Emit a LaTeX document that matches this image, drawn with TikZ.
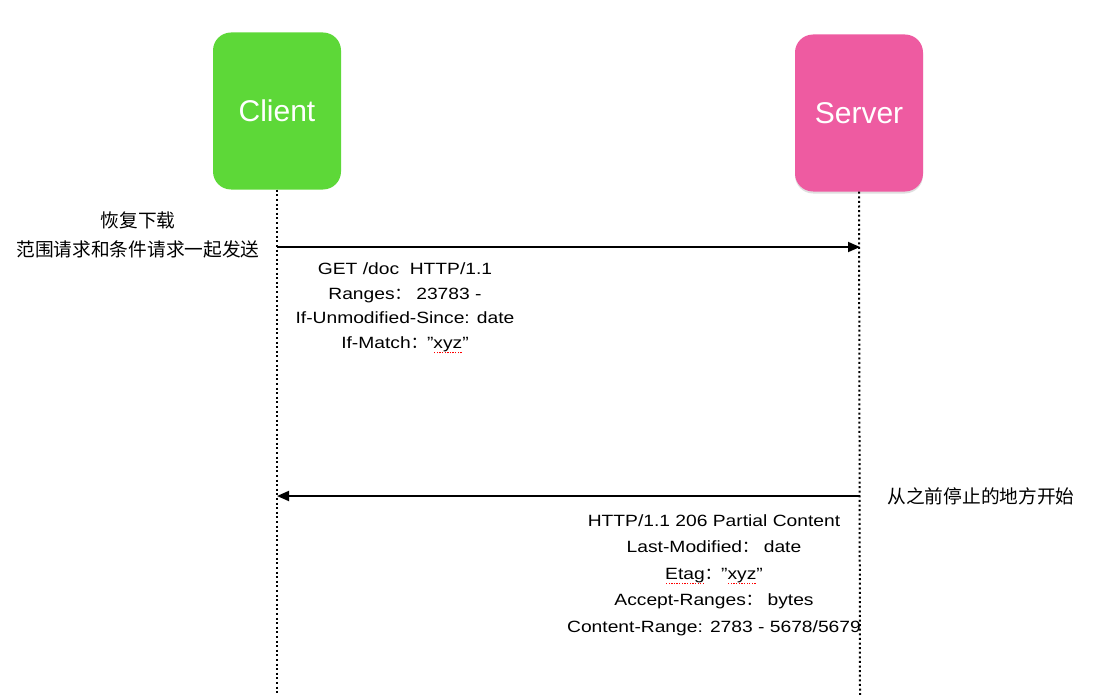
\documentclass[tikz,border=0pt]{standalone}
\usepackage{fontspec}
\setmainfont{Liberation Sans}
\newfontfamily\msgfont[FakeStretch=1.18]{Liberation Sans}
\newfontfamily\cjk{Noto Sans CJK SC}
\usetikzlibrary{arrows.meta, shadows}
\definecolor{clientgreen}{RGB}{93, 216, 56}
\definecolor{serverpink}{RGB}{238, 91, 161}
% full-width colon from the CJK font
\newcommand{\fc}{{\cjk ：}}
% red dotted spell-check mark under a word
\newcommand{\spellmark}[1]{\setbox0\hbox{#1}\rlap{\color{red}\raisebox{-5pt}{\hbox to \wd0{\xleaders\hbox to 2.6pt{\hss\rule{1.3pt}{1.3pt}\hss}\hfil}}}\box0}

\begin{document}
\begin{tikzpicture}[
  x=1pt, y=-1pt,
  party/.style={rounded corners=18pt, minimum width=128pt, minimum height=157pt,
                text=white, font=\fontsize{30}{36}\selectfont},
  life/.style={line width=2pt, dash pattern=on 2pt off 2.6pt},
  msg/.style={-{Triangle[length=12pt,width=10pt]}, line width=1.8pt},
  note/.style={align=center, font=\cjk\fontsize{18.7}{29}\selectfont},
  head/.style={align=center, font=\msgfont\fontsize{16.3}{24.7}\selectfont}
]
  \useasboundingbox (0,0) rectangle (1099,695);

  \node[party, fill=clientgreen] (client) at (277,111) {Client};
  \node[party, fill=serverpink,
        drop shadow={opacity=0.25, shadow xshift=0pt, shadow yshift=-2pt}] (server) at (859,113) {Server};

  % lifelines
  \coordinate (cend) at (277,695);
  \coordinate (send) at (860,695);
  \draw[life] (client.south) -- (cend);
  \draw[life] (server.south) -- (send);

  % request
  \coordinate (c1) at (277,247);
  \coordinate (s1) at (860,247);
  \draw[msg] (c1) -- (s1);
  \node[note] (why) at (138,235) {恢复下载\\范围请求和条件请求一起发送};
  \node[head] (req) at (405,308) {GET /doc\ \ HTTP/1.1\\Ranges\fc\ 23783 -\\If-Unmodified-Since: date\\If-Match\fc ”\spellmark{xyz}”};

  % response
  \coordinate (s2) at (860,496);
  \coordinate (c2) at (277,496);
  \draw[msg] (s2) -- (c2);
  \node[note] (resume) at (981,496) {从之前停止的地方开始};
  \node[head, font=\msgfont\fontsize{16.3}{26.5}\selectfont] (resp) at (714,575)
    {HTTP/1.1 206 Partial Content\\Last-Modified\fc\ date\\\spellmark{Etag}\fc ”\spellmark{xyz}”\\Accept-Ranges\fc\ bytes\\Content-Range: 2783 - 5678/5679};
\end{tikzpicture}
\end{document}
